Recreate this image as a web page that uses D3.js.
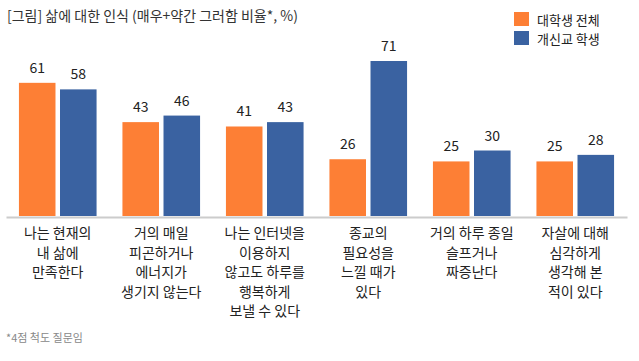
<!DOCTYPE html>
<html>
<head>
<meta charset="utf-8">
<script src="https://cdn.jsdelivr.net/npm/d3@7"></script>
<style>
body{margin:0;background:#fff;}
svg{display:block;font-family:"Noto Sans CJK KR","Noto Sans",sans-serif;}
</style>
</head>
<body>
<svg></svg>
<script>
// data
var categories=[
  ['나는 현재의','내 삶에','만족한다'],
  ['거의 매일','피곤하거나','에너지가','생기지 않는다'],
  ['나는 인터넷을','이용하지','않고도 하루를','행복하게','보낼 수 있다'],
  ['종교의','필요성을','느낄 때가','있다'],
  ['거의 하루 종일','슬프거나','짜증난다'],
  ['자살에 대해','심각하게','생각해 본','적이 있다']
];
var seriesNames=['대학생 전체','개신교 학생'];
var allStudents=[61,43,41,26,25,25];
var christianStudents=[58,46,43,71,30,28];
var colors=['#fd7f35','#3a62a1'];

var svgWidth=639,svgHeight=361,baseY=216;

var svg=d3.select('svg')
  .attr('width',svgWidth)
  .attr('height',svgHeight);

// title
svg.append('text')
  .attr('x',7).attr('y',21)
  .attr('font-size',14).attr('fill','#333')
  .text('[그림] 삶에 대한 인식 (매우+약간 그러함 비율*, %)');

var idx=d3.range(categories.length);

var x0=d3.scaleBand()
  .domain(idx)
  .range([6,627])
  .paddingInner(0.25)
  .paddingOuter(0.125);

var x1=d3.scaleBand()
  .domain([0,1])
  .range([0,x0.bandwidth()])
  .paddingInner(0.11);

var yScale=d3.scaleLinear()
  .domain([0,71])
  .range([baseY,61]);

var series=[allStudents,christianStudents];

var groups=svg.selectAll('g.grp')
  .data(idx)
  .enter()
  .append('g')
  .attr('class','grp')
  .attr('transform',d=>'translate('+x0(d)+',0)');

groups.selectAll('rect')
  .data(i=>series.map((s,k)=>({k:k,v:s[i]})))
  .enter()
  .append('rect')
  .attr('x',d=>x1(d.k))
  .attr('y',d=>yScale(d.v))
  .attr('width',x1.bandwidth())
  .attr('height',d=>baseY-yScale(d.v))
  .attr('fill',d=>colors[d.k]);

groups.selectAll('text.val')
  .data(i=>series.map((s,k)=>({k:k,v:s[i]})))
  .enter()
  .append('text')
  .attr('class','val')
  .attr('x',d=>x1(d.k)+x1.bandwidth()/2)
  .attr('y',d=>yScale(d.v)-10)
  .attr('text-anchor','middle')
  .attr('font-size',14)
  .attr('fill','#222')
  .text(d=>d.v);

// axis
var xAxis=d3.axisBottom(x0).tickSize(0).tickFormat('');
var ax=svg.append('g')
  .attr('transform','translate(0,'+(baseY+1)+')')
  .call(xAxis);
ax.select('.domain').attr('stroke','#ccc').attr('stroke-width',2);

// category labels
var lbl=svg.selectAll('text.cat')
  .data(idx)
  .enter()
  .append('text')
  .attr('class','cat')
  .attr('text-anchor','middle')
  .attr('font-size',14)
  .attr('fill','#222')
  .attr('x',d=>x0(d)+x0.bandwidth()/2)
  .attr('y',238);
lbl.selectAll('tspan')
  .data(d=>categories[d])
  .enter()
  .append('tspan')
  .attr('x',function(){return d3.select(this.parentNode).attr('x');})
  .attr('dy',(d,i)=>i===0?0:19.5)
  .text(d=>d);

// legend
var leg=svg.selectAll('g.leg')
  .data(seriesNames)
  .enter()
  .append('g')
  .attr('class','leg')
  .attr('transform',(d,i)=>'translate(514,'+(12+i*19)+')');
leg.append('rect')
  .attr('width',15).attr('height',14)
  .attr('fill',(d,i)=>colors[i]);
leg.append('text')
  .attr('x',23).attr('y',7)
  .attr('dominant-baseline','central')
  .attr('font-size',13)
  .attr('fill','#222')
  .text(d=>d);

// footnote
svg.append('text')
  .attr('x',6).attr('y',342)
  .attr('font-size',11).attr('fill','#888')
  .text('*4점 척도 질문임');
</script>
</body>
</html>
